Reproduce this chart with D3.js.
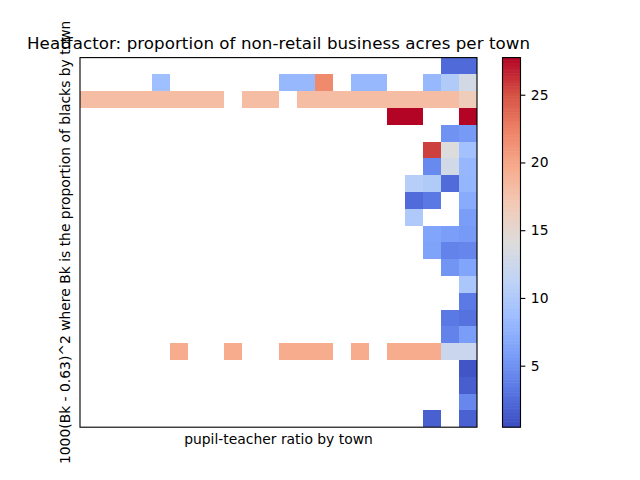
<!DOCTYPE html>
<html>
<head>
<meta charset="utf-8">
<script src="https://cdn.jsdelivr.net/npm/d3@7"></script>
<style>
  body { margin: 0; background: #fff; }
  svg { display: block; }
  text { font-family: "DejaVu Sans", sans-serif; fill: #000; }
</style>
</head>
<body>
<div id="chart"></div>
<script>
"use strict";

var titleText = "Heatfactor: proportion of non-retail business acres per town";
var xLabel = "pupil-teacher ratio by town";
var yLabel = "1000(Bk - 0.63)^2 where Bk is the proportion of blacks by town";

var colorTicks = [5, 10, 15, 20, 25];
var valueExtent = [0.46, 27.74];

// coolwarm colour map, sampled every tenth
var coolwarm = ["#3b4cc0", "#5977e3", "#7b9ff9", "#9ebeff", "#c0d4f5", "#dddcdc",
                "#f2cbb7", "#f7ac8e", "#ee8468", "#d65244", "#b40426"];

// mean value per bin, top row first, _ is an empty bin
var _ = null;
var rows = [
  [_,_,_,_,_,_,_,_,_,_,_,_,_,_,_,_,_,_,_,_,2.4,2.4],
  [_,_,_,_,8.8,_,_,_,_,_,_,8.14,8.14,21.89,_,8.14,8.14,_,_,8.14,10.2,13.2],
  [18.1,18.1,18.1,18.1,18.1,18.1,18.1,18.1,_,18.1,18.1,_,18.1,18.1,18.1,18.1,18.1,18.1,18.1,18.1,18.1,16.5],
  [_,_,_,_,_,_,_,_,_,_,_,_,_,_,_,_,_,27.74,27.74,_,_,27.74],
  [_,_,_,_,_,_,_,_,_,_,_,_,_,_,_,_,_,_,_,_,5,5.6],
  [_,_,_,_,_,_,_,_,_,_,_,_,_,_,_,_,_,_,_,25.65,14,9],
  [_,_,_,_,_,_,_,_,_,_,_,_,_,_,_,_,_,_,_,4.4,13,8],
  [_,_,_,_,_,_,_,_,_,_,_,_,_,_,_,_,_,_,10.6,10.2,2.5,7.9],
  [_,_,_,_,_,_,_,_,_,_,_,_,_,_,_,_,_,_,2.5,3.3,_,7],
  [_,_,_,_,_,_,_,_,_,_,_,_,_,_,_,_,_,_,10,_,_,5.8],
  [_,_,_,_,_,_,_,_,_,_,_,_,_,_,_,_,_,_,_,6.4,5.9,5.6],
  [_,_,_,_,_,_,_,_,_,_,_,_,_,_,_,_,_,_,_,6.3,4,4.2],
  [_,_,_,_,_,_,_,_,_,_,_,_,_,_,_,_,_,_,_,_,5.2,6.4],
  [_,_,_,_,_,_,_,_,_,_,_,_,_,_,_,_,_,_,_,_,_,9.6],
  [_,_,_,_,_,_,_,_,_,_,_,_,_,_,_,_,_,_,_,_,_,3.4],
  [_,_,_,_,_,_,_,_,_,_,_,_,_,_,_,_,_,_,_,_,3.3,2.9],
  [_,_,_,_,_,_,_,_,_,_,_,_,_,_,_,_,_,_,_,_,4,5.8],
  [_,_,_,_,_,19.58,_,_,19.58,_,_,19.58,19.58,19.58,_,19.58,_,19.58,19.58,19.58,12.2,12.2],
  [_,_,_,_,_,_,_,_,_,_,_,_,_,_,_,_,_,_,_,_,_,1],
  [_,_,_,_,_,_,_,_,_,_,_,_,_,_,_,_,_,_,_,_,_,1.6],
  [_,_,_,_,_,_,_,_,_,_,_,_,_,_,_,_,_,_,_,_,_,4.3],
  [_,_,_,_,_,_,_,_,_,_,_,_,_,_,_,_,_,_,_,1.7,_,1.8]
];

var width = 640;
var height = 480;
var margin = {top: 57.6, right: 163, bottom: 52.8, left: 80};
var barLeft = 502.5, barWidth = 18;
var plotRight = width - margin.right;
var plotBottom = height - margin.bottom;

var x = d3.scaleBand().domain(d3.range(rows[0].length)).range([margin.left, plotRight]);
var y = d3.scaleBand().domain(d3.range(rows.length)).range([margin.top, plotBottom]);

var color = d3.scaleLinear()
  .domain(coolwarm.map(function(d, i) { return valueExtent[0] + (valueExtent[1] - valueExtent[0]) * i / (coolwarm.length - 1); }))
  .range(coolwarm);

var cells = [];
rows.forEach(function(row, r) {
  row.forEach(function(v, c) {
    if (v !== null) cells.push({row: r, col: c, value: v});
  });
});

var svg = d3.select("#chart").append("svg")
  .attr("width", width)
  .attr("height", height);

svg.append("g")
  .selectAll("rect")
  .data(cells)
  .enter().append("rect")
  .attr("x", function(d) { return x(d.col); })
  .attr("y", function(d) { return y(d.row); })
  .attr("width", x.bandwidth())
  .attr("height", y.bandwidth())
  .attr("shape-rendering", "crispEdges")
  .attr("fill", function(d) { return color(d.value); });

svg.append("rect")
  .attr("x", margin.left)
  .attr("y", margin.top)
  .attr("width", plotRight - margin.left)
  .attr("height", plotBottom - margin.top)
  .attr("fill", "none")
  .attr("stroke", "#000")
  .attr("stroke-width", 1.11);

svg.append("text")
  .attr("x", margin.left - 10)
  .attr("y", (margin.top + plotBottom) / 2)
  .attr("transform", "rotate(-90," + (margin.left - 10) + "," + ((margin.top + plotBottom) / 2) + ")")
  .attr("text-anchor", "middle")
  .style("font-size", "13.89px")
  .text(yLabel);

svg.append("text")
  .attr("x", (margin.left + plotRight) / 2)
  .attr("y", margin.top - 8.6)
  .attr("text-anchor", "middle")
  .attr("textLength", 503)
  .style("font-size", "16.67px")
  .text(titleText);

svg.append("text")
  .attr("x", (margin.left + plotRight) / 2)
  .attr("y", plotBottom + 17)
  .attr("text-anchor", "middle")
  .style("font-size", "13.89px")
  .text(xLabel);

// colour bar
var barScale = d3.scaleLinear().domain(valueExtent).range([plotBottom, margin.top]);
var levels = d3.range(256).map(function(i) { return valueExtent[0] + (valueExtent[1] - valueExtent[0]) * (i + 0.5) / 256; });
var levelHeight = (plotBottom - margin.top) / 256;

svg.append("g")
  .selectAll("rect")
  .data(levels)
  .enter().append("rect")
  .attr("x", barLeft)
  .attr("y", function(d) { return barScale(d) - levelHeight / 2 - 0.3; })
  .attr("width", barWidth)
  .attr("height", levelHeight + 0.6)
  .attr("fill", function(d) { return color(d); });

svg.append("rect")
  .attr("x", barLeft)
  .attr("y", margin.top)
  .attr("width", barWidth)
  .attr("height", plotBottom - margin.top)
  .attr("fill", "none")
  .attr("stroke", "#000")
  .attr("stroke-width", 1.11);

var barAxis = svg.append("g")
  .attr("transform", "translate(" + (barLeft + barWidth) + ",0)")
  .call(d3.axisRight(barScale).tickValues(colorTicks).tickSize(4.86).tickPadding(5.5).tickFormat(d3.format("d")));
barAxis.select(".domain").remove();
barAxis.selectAll("line").attr("stroke", "#000").attr("stroke-width", 1.11);
barAxis.selectAll("text")
  .style("font-family", '"DejaVu Sans", sans-serif')
  .style("font-size", "13.89px");
</script>
</body>
</html>
